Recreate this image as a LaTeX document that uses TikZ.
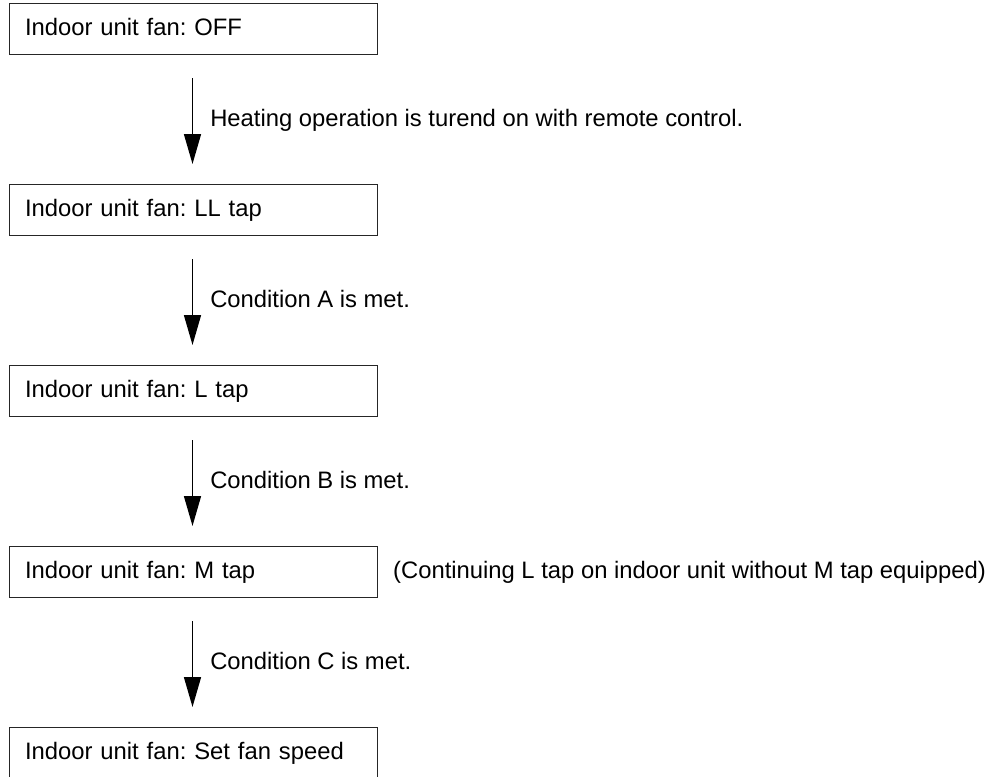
\documentclass[tikz,border=0pt]{standalone}
\usepackage{fontspec}
\setmainfont{Liberation Sans}
\usetikzlibrary{arrows.meta,positioning}
\frenchspacing
\tikzset{
  fanbox/.style={draw=black!85, line width=1pt, anchor=north west,
    minimum height=51pt, text width=337pt, inner xsep=15.5pt, inner ysep=0pt,
    align=left, text height=17pt, text depth=4pt},
  flow/.style={line width=1.5pt, -{Triangle[length=30pt,width=17pt]},
    shorten <=23pt, shorten >=20pt},
  cond/.style={anchor=west, inner sep=0pt, xshift=17pt, text height=17pt, text depth=4pt}
}
\begin{document}
\begin{tikzpicture}[x=1pt,y=1pt,font=\fontsize{23.8}{28}\selectfont\frenchspacing]
\useasboundingbox (0,0) rectangle (995,-776);
\node[fanbox] (b1) at (9,-3) {Indoor unit fan: OFF};
\node[fanbox] (b2) at (9,-184) {Indoor unit fan: LL tap};
\node[fanbox] (b3) at (9,-365) {Indoor unit fan: L tap};
\node[fanbox] (b4) at (9,-546) {Indoor unit fan: M tap};
\node[fanbox] (b5) at (9,-727) {Indoor unit fan: Set fan speed};
\node[anchor=west, inner sep=0pt, text height=17pt, text depth=4pt] (note) at ([xshift=15pt]b4.east) {(Continuing L tap on indoor unit without M tap equipped)};
\draw[flow] ([xshift=-1pt]b1.south) -- node[cond] (l1) {Heating operation is turend on with remote control.} ([xshift=-1pt]b2.north);
\draw[flow] ([xshift=-1pt]b2.south) -- node[cond] (l2) {Condition A is met.} ([xshift=-1pt]b3.north);
\draw[flow] ([xshift=-1pt]b3.south) -- node[cond] (l3) {Condition B is met.} ([xshift=-1pt]b4.north);
\draw[flow] ([xshift=-1pt]b4.south) -- node[cond] (l4) {Condition C is met.} ([xshift=-1pt]b5.north);
\end{tikzpicture}
\end{document}
